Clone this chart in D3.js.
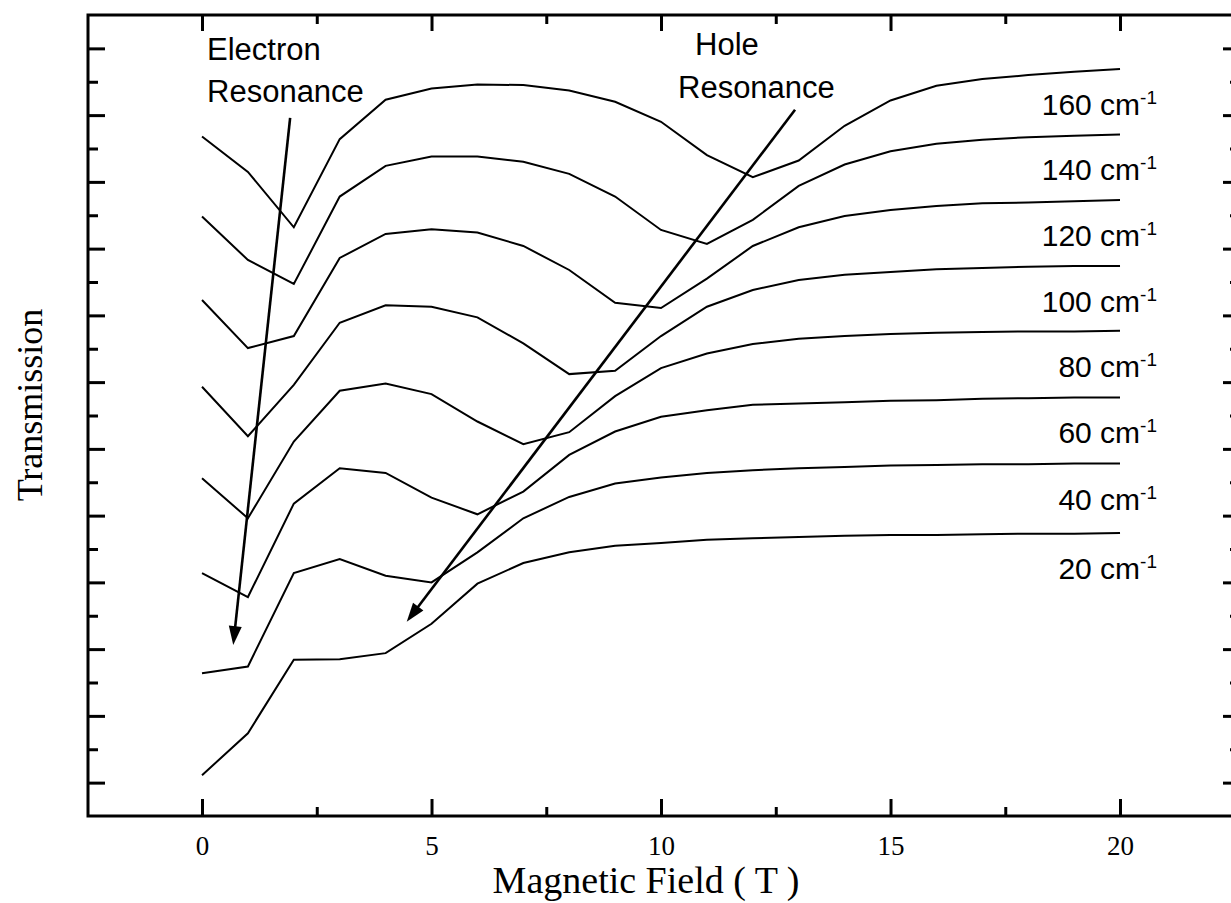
<!DOCTYPE html>
<html><head><meta charset="utf-8">
<script src="https://cdn.jsdelivr.net/npm/d3@7"></script>
<style>body{margin:0;background:#fff}svg{display:block;background:#fff}</style>
</head><body><svg id="c" width="1231" height="903"></svg>
<script>
// Magnetic field (T) at which every trace was sampled
const fieldT = [0,1,2,3,4,5,6,7,8,9,10,11,12,13,14,15,16,17,18,19,20];

// Transmission traces (arbitrary units, vertically offset), one per laser frequency
const t160 = [10.18,9.65,8.82,10.14,10.73,10.90,10.96,10.95,10.87,10.70,10.40,9.90,9.57,9.82,10.34,10.72,10.94,11.04,11.10,11.15,11.19];
const t140 = [8.98,8.33,7.97,9.28,9.74,9.88,9.88,9.80,9.62,9.28,8.78,8.57,8.93,9.44,9.76,9.96,10.07,10.13,10.17,10.19,10.21];
const t120 = [7.73,7.01,7.19,8.36,8.72,8.79,8.74,8.54,8.18,7.69,7.61,8.05,8.54,8.82,8.99,9.08,9.14,9.18,9.19,9.21,9.23];
const t100 = [6.43,5.69,6.46,7.39,7.65,7.63,7.47,7.08,6.62,6.67,7.19,7.63,7.88,8.03,8.11,8.15,8.19,8.21,8.23,8.24,8.24];
const t80  = [5.06,4.46,5.61,6.37,6.48,6.32,5.91,5.57,5.75,6.29,6.71,6.93,7.07,7.15,7.19,7.22,7.24,7.25,7.26,7.26,7.27];
const t60  = [3.64,3.28,4.68,5.21,5.14,4.77,4.52,4.86,5.41,5.76,5.98,6.08,6.16,6.18,6.20,6.22,6.23,6.25,6.26,6.27,6.27];
const t40  = [2.14,2.24,3.64,3.85,3.60,3.50,3.95,4.46,4.78,4.98,5.07,5.14,5.18,5.21,5.23,5.25,5.26,5.27,5.27,5.28,5.28];
const t20  = [0.61,1.24,2.34,2.35,2.44,2.88,3.48,3.79,3.95,4.05,4.09,4.14,4.16,4.18,4.20,4.21,4.21,4.22,4.23,4.23,4.24];

const seriesList = [t160,t140,t120,t100,t80,t60,t40,t20];
const freqLabels = ["160","140","120","100","80","60","40","20"];

// Axis ticks
const xTicksMajor = [0,5,10,15,20];
const xTicksMinor = [2.5,7.5,12.5,17.5];
const yTicksMajor = [0.5,1.5,2.5,3.5,4.5,5.5,6.5,7.5,8.5,9.5,10.5,11.5];
const yTicksMinor = [1,2,3,4,5,6,7,8,9,10,11];

// Resonance guide arrows [start, tip] in data units (field T, transmission)
const electronArrow = [[1.92,10.46],[0.68,2.56]];
const holeArrow = [[12.92,10.58],[4.46,2.91]];

const svg = d3.select("#c");
const L = 88, R = 1240, T = 15, B = 816;
const x = d3.scaleLinear().domain([-2.484, 22.614]).range([L, R]);
const y = d3.scaleLinear().domain([0, 12]).range([B, T]);

const SANS = "'Liberation Sans', Arial, Helvetica, sans-serif";
const SERIF = "'Liberation Serif', 'Times New Roman', Times, serif";

svg.append("rect").attr("width",1231).attr("height",903).attr("fill","#fff");

// ticks
function styleAxis(g){
  g.select(".domain").remove();
  g.selectAll(".tick line").attr("stroke","#000").attr("stroke-width",3);
}
svg.append("g").attr("transform",`translate(0,${B})`)
  .call(d3.axisBottom(x).tickValues(xTicksMajor).tickSize(-17).tickPadding(20).tickFormat(d3.format("d")))
  .call(styleAxis)
  .call(g=>g.selectAll("text").attr("font-family",SERIF).attr("font-size",27).attr("fill","#000"));
svg.append("g").attr("transform",`translate(0,${B})`)
  .call(d3.axisBottom(x).tickValues(xTicksMinor).tickSize(-9).tickFormat(""))
  .call(styleAxis);
svg.append("g").attr("transform",`translate(0,${T})`)
  .call(d3.axisTop(x).tickValues(xTicksMajor).tickSize(-16).tickFormat(""))
  .call(styleAxis);
svg.append("g").attr("transform",`translate(0,${T})`)
  .call(d3.axisTop(x).tickValues(xTicksMinor).tickSize(-9).tickFormat(""))
  .call(styleAxis);
svg.append("g").attr("transform",`translate(${L},0)`)
  .call(d3.axisLeft(y).tickValues(yTicksMajor).tickSize(-17).tickFormat(""))
  .call(styleAxis);
svg.append("g").attr("transform",`translate(${L},0)`)
  .call(d3.axisLeft(y).tickValues(yTicksMinor).tickSize(-10).tickFormat(""))
  .call(styleAxis);
svg.append("g").attr("transform",`translate(${R},0)`)
  .call(d3.axisRight(y).tickValues(yTicksMajor).tickSize(-17).tickFormat(""))
  .call(styleAxis);
svg.append("g").attr("transform",`translate(${R},0)`)
  .call(d3.axisRight(y).tickValues(yTicksMinor).tickSize(-10).tickFormat(""))
  .call(styleAxis);

// frame
svg.append("rect").attr("x",L).attr("y",T).attr("width",R-L).attr("height",B-T)
  .attr("fill","none").attr("stroke","#000").attr("stroke-width",3);

// curves
const line = d3.line().x((d,i)=>x(fieldT[i])).y(d=>y(d));
svg.append("g").selectAll("path").data(seriesList).join("path")
  .attr("d", line).attr("fill","none").attr("stroke","#000")
  .attr("stroke-width",2).attr("stroke-linejoin","miter");

// frequency labels
const lab = svg.append("g").attr("font-family",SANS).attr("fill","#000");
seriesList.forEach((s,i)=>{
  const t = lab.append("text")
    .attr("x", x(fieldT[fieldT.length-1]) + 37)
    .attr("y", y(s[s.length-1]) + 46)
    .attr("text-anchor","end").attr("font-size",30);
  t.append("tspan").text(freqLabels[i] + " cm");
  t.append("tspan").attr("font-size",19).attr("dy",-11).text("-1");
});

// arrows
function arrow(a){
  const p0 = [x(a[0][0]), y(a[0][1])], p1 = [x(a[1][0]), y(a[1][1])];
  const dx = p1[0]-p0[0], dy = p1[1]-p0[1], len = Math.hypot(dx,dy);
  const ux = dx/len, uy = dy/len, nx = -uy, ny = ux;
  const hl = 19, hw = 6.5;
  const bx = p1[0]-ux*hl, by = p1[1]-uy*hl;
  svg.append("line").attr("x1",p0[0]).attr("y1",p0[1]).attr("x2",bx+ux*2).attr("y2",by+uy*2)
    .attr("stroke","#000").attr("stroke-width",2.6);
  svg.append("path")
    .attr("d",`M${p1[0]},${p1[1]}L${bx+nx*hw},${by+ny*hw}L${bx-nx*hw},${by-ny*hw}Z`)
    .attr("fill","#000");
}
arrow(electronArrow);
arrow(holeArrow);

// annotations
const ann = svg.append("g").attr("font-family",SANS).attr("font-size",31).attr("fill","#000");
ann.append("text").attr("x",x(0)+5).attr("y",T+45).text("Electron");
ann.append("text").attr("x",x(0)+5).attr("y",T+87).text("Resonance");
ann.append("text").attr("x",695).attr("y",T+40).text("Hole");
ann.append("text").attr("x",678).attr("y",T+83).text("Resonance");

// axis titles
svg.append("text").attr("x",646).attr("y",893).attr("text-anchor","middle")
  .attr("font-family",SERIF).attr("font-size",38).attr("fill","#000")
  .text("Magnetic Field ( T )");
svg.append("text").attr("transform",`translate(42,405) rotate(-90)`).attr("text-anchor","middle")
  .attr("font-family",SERIF).attr("font-size",36).attr("fill","#000")
  .text("Transmission");
</script></body></html>
